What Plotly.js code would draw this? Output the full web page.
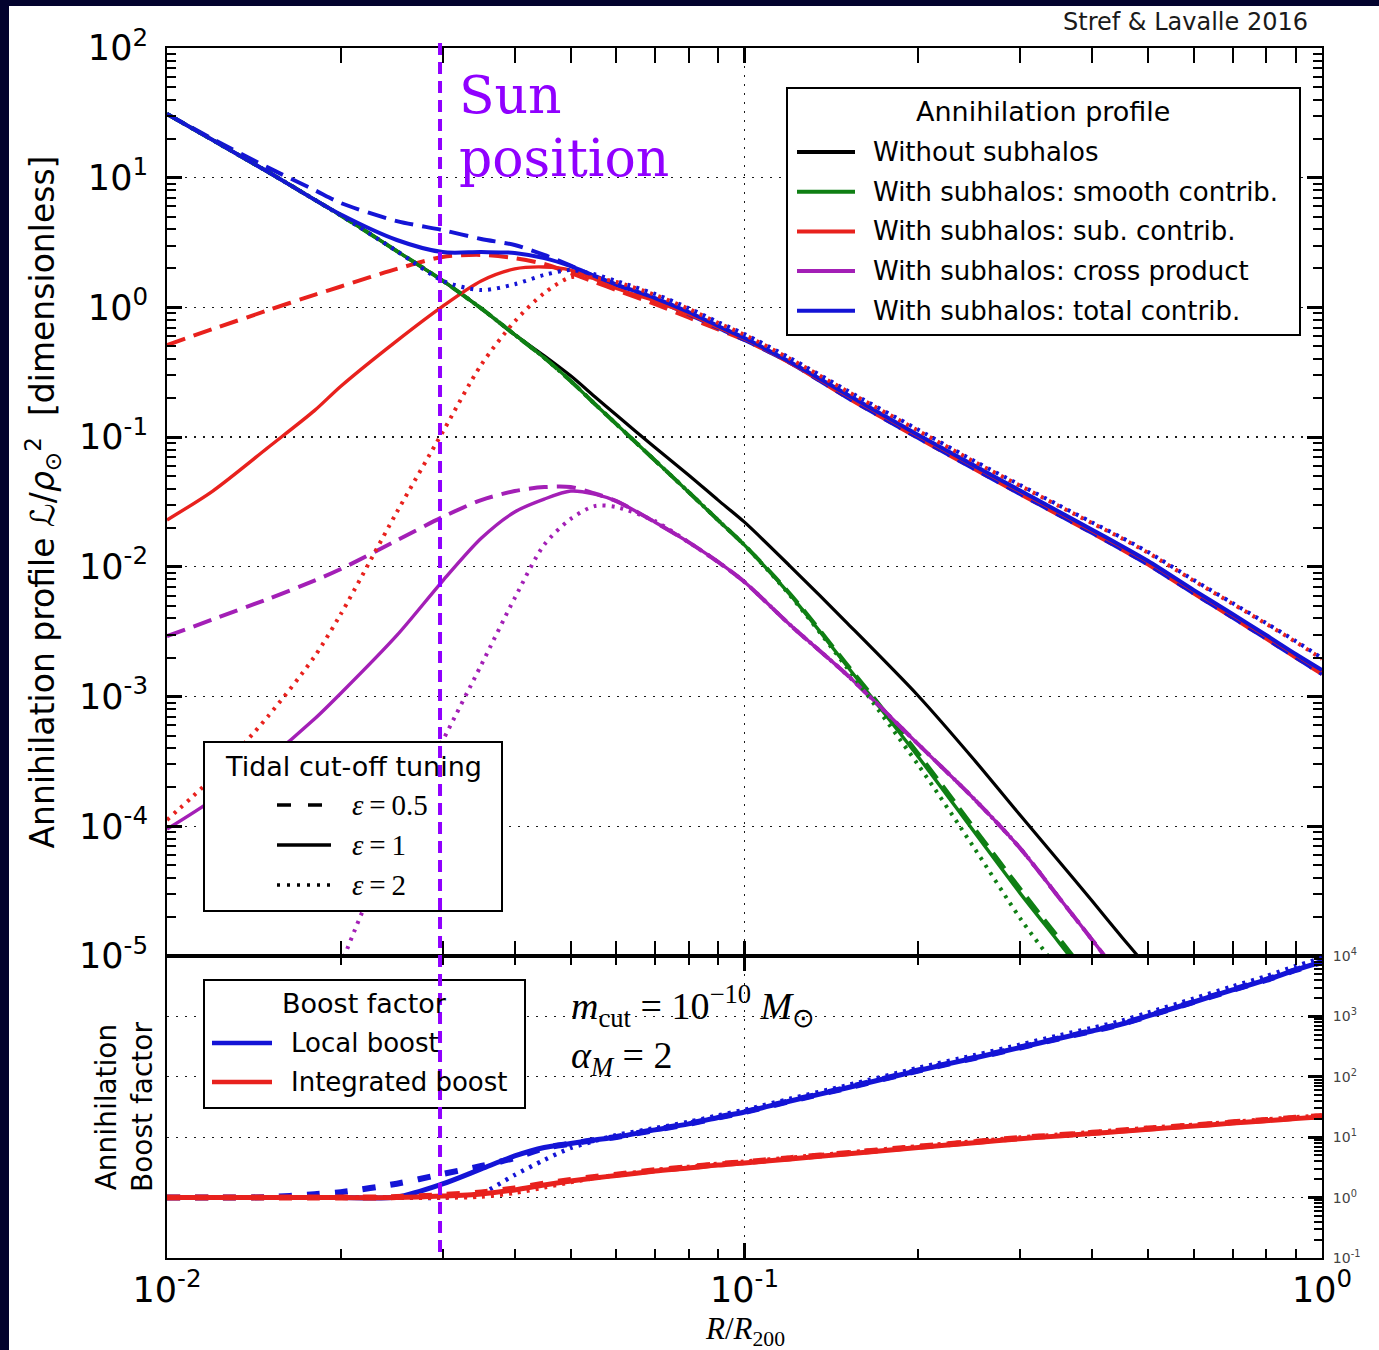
<!DOCTYPE html>
<html>
<head>
<meta charset="utf-8">
<script src="https://cdn.plot.ly/plotly-3.0.1.min.js"></script>
<style>
  html, body { margin: 0; padding: 0; width: 1379px; height: 1350px; overflow: hidden; background: #03032e; }
  #chart { position: absolute; left: 9px; top: 6px; width: 1370px; height: 1344px; background: #ffffff; }
</style>
</head>
<body>
<div id="chart"></div>
<script>
// Galactocentric radius in units of R200, shared by every curve
const radius = [0.01, 0.012, 0.015, 0.018, 0.02, 0.025, 0.03, 0.035, 0.04, 0.045, 0.05, 0.055, 0.06, 0.07, 0.08, 0.09, 0.1, 0.12, 0.15, 0.2, 0.25, 0.3, 0.35, 0.4, 0.45, 0.5, 0.6, 0.7, 0.8, 0.9, 1.0];

// Annihilation profile L / rho_sun^2 without subhalos
const noSubhalos = [31.0, 19.5, 11.0, 6.78, 5.12, 2.72, 1.61, 0.982, 0.617, 0.424, 0.297, 0.206, 0.148, 0.0832, 0.0511, 0.0327, 0.0221, 0.0101, 0.00375, 0.00101, 3.24e-4, 1.22e-4, 5.40e-5, 2.65e-5, 1.40e-5, 8.07e-6, 2.99e-6, null, null, null, null];

// Smooth contribution for epsilon = 0.5, 1, 2
const smoothEps05 = [31.0, 19.5, 11.0, 6.78, 5.12, 2.72, 1.61, 0.982, 0.617, 0.409, 0.271, 0.181, 0.126, 0.0661, 0.0378, 0.0229, 0.0147, 0.00617, 0.00180, 3.63e-4, 9.66e-5, 3.31e-5, 1.38e-5, 6.46e-6, 3.31e-6, null, null, null, null, null, null];
const smoothEps1 = [31.0, 19.5, 11.0, 6.78, 5.12, 2.72, 1.61, 0.982, 0.617, 0.409, 0.271, 0.181, 0.126, 0.0661, 0.0378, 0.0229, 0.0147, 0.00607, 0.00175, 3.42e-4, 9.02e-5, 3.05e-5, 1.28e-5, 5.97e-6, 3.04e-6, null, null, null, null, null, null];
const smoothEps2 = [31.0, 19.5, 11.0, 6.78, 5.12, 2.72, 1.61, 0.982, 0.617, 0.409, 0.271, 0.181, 0.126, 0.0661, 0.0378, 0.0229, 0.0147, 0.00600, 0.00170, 2.96e-4, 6.79e-5, 1.96e-5, 7.78e-6, 3.50e-6, null, null, null, null, null, null, null];

// Subhalo contribution
const subEps05 = [0.513, 0.681, 0.955, 1.25, 1.45, 1.98, 2.45, 2.54, 2.40, 2.16, 1.84, 1.57, 1.36, 1.06, 0.837, 0.676, 0.561, 0.373, 0.204, 0.0984, 0.0568, 0.0364, 0.0251, 0.0182, 0.0136, 0.0104, 0.00622, 0.00406, 0.00280, 0.00200, 0.00149];
const subEps1 = [0.0230, 0.0384, 0.0839, 0.160, 0.247, 0.553, 1.02, 1.60, 1.98, 2.05, 1.94, 1.66, 1.40, 1.12, 0.889, 0.700, 0.571, 0.373, 0.211, 0.102, 0.0593, 0.0380, 0.0262, 0.0189, 0.0142, 0.0109, 0.00650, 0.00425, 0.00292, 0.00209, 0.00157];
const subEps2 = [1.12e-4, 2.38e-4, 7.14e-4, 2.03e-3, 4.33e-3, 0.0264, 0.109, 0.361, 0.780, 1.29, 1.71, 1.69, 1.57, 1.25, 0.975, 0.760, 0.615, 0.401, 0.228, 0.112, 0.0646, 0.0422, 0.0295, 0.0217, 0.0166, 0.0128, 0.00780, 0.00519, 0.00364, 0.00264, 0.00195];

// Cross product smooth x subhalos
const crossEps05 = [2.92e-3, 3.93e-3, 5.68e-3, 7.83e-3, 9.62e-3, 0.0160, 0.0242, 0.0327, 0.0384, 0.0412, 0.0412, 0.0368, 0.0321, 0.0221, 0.0155, 0.0109, 0.00764, 0.00356, 0.00149, 4.28e-4, 1.62e-4, 6.79e-5, 2.84e-5, 1.33e-5, 6.75e-6, null, null, null, null, null, null];
const crossEps1 = [9.51e-5, 1.60e-4, 3.34e-4, 6.70e-4, 1.06e-3, 2.96e-3, 7.77e-3, 0.0166, 0.0265, 0.0333, 0.0384, 0.0364, 0.0321, 0.0221, 0.0155, 0.0109, 0.00764, 0.00356, 0.00149, 4.28e-4, 1.62e-4, 6.79e-5, 2.84e-5, 1.33e-5, 6.75e-6, null, null, null, null, null, null];
const crossEps2 = [null, null, null, 2.17e-6, 8.5e-6, 9.08e-5, 4.54e-4, 1.75e-3, 5.74e-3, 0.0148, 0.0234, 0.0294, 0.0289, 0.0225, 0.0155, 0.0109, 0.00764, 0.00356, 0.00149, 4.28e-4, 1.62e-4, 6.79e-5, 2.84e-5, 1.33e-5, 6.75e-6, null, null, null, null, null, null];

// Total annihilation profile with subhalos
const totalEps05 = [31.0, 19.9, 11.9, 8.04, 6.38, 4.63, 3.95, 3.37, 3.03, 2.54, 2.10, 1.74, 1.49, 1.14, 0.889, 0.694, 0.561, 0.373, 0.204, 0.0984, 0.0568, 0.0364, 0.0251, 0.0182, 0.0136, 0.0104, 0.00622, 0.00406, 0.00280, 0.00200, 0.00149];
const totalEps1 = [31.0, 19.5, 11.0, 6.78, 5.20, 3.31, 2.67, 2.67, 2.63, 2.40, 2.08, 1.75, 1.50, 1.18, 0.922, 0.719, 0.581, 0.379, 0.215, 0.104, 0.0603, 0.0388, 0.0267, 0.0193, 0.0145, 0.0111, 0.00662, 0.00433, 0.00298, 0.00213, 0.00160];
const totalEps2 = [31.0, 19.5, 11.0, 6.78, 5.12, 2.72, 1.61, 1.36, 1.51, 1.78, 1.94, 1.80, 1.60, 1.27, 0.989, 0.771, 0.624, 0.407, 0.231, 0.114, 0.0655, 0.0428, 0.0299, 0.0220, 0.0168, 0.0130, 0.00791, 0.00526, 0.00369, 0.00268, 0.00198];

// Boost factors (lower panel)
const localEps05 = [1.0, 1.0, 1.02, 1.14, 1.23, 1.70, 2.46, 3.34, 4.53, 6.60, 7.80, 8.99, 10.1, 13.2, 16.6, 21.2, 26.1, 39.7, 65.3, 127, 205, 305, 430, 573, 748, 1016, 1730, 2740, 4010, 5860, 7950];
const localEps1 = [1.0, 1.0, 1.0, 1.0, 1.0, 1.02, 1.68, 2.98, 4.89, 6.75, 7.87, 8.99, 10.1, 13.2, 16.6, 21.2, 26.1, 39.7, 65.3, 127, 205, 305, 430, 573, 748, 1016, 1730, 2740, 4010, 5860, 7950];
const localEps2 = [1.0, 1.0, 1.0, 1.0, 1.0, 1.0, 1.0, 1.19, 2.37, 4.20, 6.62, 8.65, 10.8, 14.1, 17.9, 22.9, 28.3, 43.3, 71.6, 140, 227, 340, 482, 644, 845, 1150, 1970, 3130, 4610, 6780, 9250];
const integratedEps05 = [1.0, 1.0, 1.0, 1.0, 1.0, 1.02, 1.10, 1.22, 1.42, 1.70, 1.96, 2.20, 2.40, 2.84, 3.19, 3.58, 3.86, 4.50, 5.43, 6.95, 8.35, 9.70, 10.8, 11.8, 12.9, 13.9, 15.7, 17.6, 19.2, 20.9, 22.4];
const integratedEps1 = [1.0, 1.0, 1.0, 1.0, 1.0, 1.0, 1.06, 1.15, 1.34, 1.62, 1.88, 2.11, 2.32, 2.75, 3.09, 3.47, 3.74, 4.36, 5.27, 6.75, 8.11, 9.42, 10.5, 11.5, 12.5, 13.5, 15.3, 17.1, 18.7, 20.3, 21.8];
const integratedEps2 = [1.0, 1.0, 1.0, 1.0, 1.0, 1.0, 1.0, 1.04, 1.20, 1.48, 1.80, 2.10, 2.36, 2.86, 3.22, 3.62, 3.92, 4.57, 5.52, 7.07, 8.50, 9.87, 11.0, 12.1, 13.1, 14.2, 16.0, 17.9, 19.6, 21.3, 22.8];

// Position of the Sun in units of R200
const sunPosition = 0.0297;

// Tick labels
const xTickVals = [0.01, 0.1, 1];
const xTickText = ['10<sup>-2</sup>', '10<sup>-1</sup>', '10<sup>0</sup>'];
const profileTickVals = [1e-5, 1e-4, 1e-3, 1e-2, 1e-1, 1, 10, 100];
const profileTickText = ['10<sup>-5</sup>', '10<sup>-4</sup>', '10<sup>-3</sup>', '10<sup>-2</sup>', '10<sup>-1</sup>', '10<sup>0</sup>', '10<sup>1</sup>', '10<sup>2</sup>'];
const boostTickVals = [0.1, 1, 10, 100, 1000, 10000];
const boostTickText = ['10<sup>-1</sup>', '10<sup>0</sup>', '10<sup>1</sup>', '10<sup>2</sup>', '10<sup>3</sup>', '10<sup>4</sup>'];

// Axis titles
const xTitle = '<i>R</i>/<i>R</i><sub>200</sub>';
const profileTitle = 'Annihilation profile <i>ℒ</i>/<i>ρ</i><sub>⊙</sub><sup>2</sup>  [dimensionless]';
const boostTitle = 'Annihilation<br>Boost factor';

// Model parameters
const modelText = '<i>m</i><sub>cut</sub> = 10<sup>−10</sup> <i>M</i><sub>⊙</sub><br><i>α</i><sub><i>M</i></sub> = 2';

// Legend contents
const profileLegendTitle = 'Annihilation profile';
const profileNames = ['Without subhalos', 'With subhalos: smooth contrib.', 'With subhalos: sub. contrib.', 'With subhalos: cross product', 'With subhalos: total contrib.'];
const profileColors = ['#000000', '#0f7f14', '#e8211d', '#a31fb6', '#1414d6'];
const tidalLegendTitle = 'Tidal cut-off tuning';
const tidalLabels = ['<i>ε</i>\u2009=\u20090.5', '<i>ε</i>\u2009=\u20091', '<i>ε</i>\u2009=\u20092'];
const boostLegendTitle = 'Boost factor';
const boostNames = ['Local boost', 'Integrated boost'];
const boostColors = ['#1414d6', '#e8211d'];

// ---- styling ----
const SANS = 'DejaVu Sans';
const MATH = 'Liberation Serif';
const SUN_COLOR = '#9000ff';
const GRID = {showgrid: true, gridcolor: '#1a1a1a', gridwidth: 1.3, griddash: '2px,7px'};

const topStyles = {
  dashed: {dash: '19px,9px', width: 4},
  solid: {dash: 'solid', width: 3.4},
  dotted: {dash: '3px,6px', width: 4}
};
const lowStyles = {
  dashed: {dash: '13px,15px', width: 6},
  solid: {dash: 'solid', width: 5},
  dotted: {dash: '3px,6px', width: 4.5}
};

// plot area in page pixels, used to place legend boxes and labels
const AREA = {left: 167, top: 48, right: 1322, bottom: 1258};
const px = X => (X - AREA.left) / (AREA.right - AREA.left);
const py = Y => (AREA.bottom - Y) / (AREA.bottom - AREA.top);

function minorTicks(lo, hi) {
  const v = [];
  for (let e = lo; e < hi; e++) for (let m = 2; m <= 9; m++) v.push(m * Math.pow(10, e));
  return v;
}

function line(y, color, style, yaxis, w) {
  return {
    type: 'scatter', mode: 'lines', x: radius, y: y,
    xaxis: 'x', yaxis: yaxis,
    line: {color: color, width: w || style.width, dash: style.dash, shape: 'spline', smoothing: 0.8},
    connectgaps: false, hoverinfo: 'skip', showlegend: false
  };
}

const [cBlack, cGreen, cRed, cPurple, cBlue] = profileColors;
const traces = [
  line(noSubhalos, cBlack, topStyles.solid, 'y', 3.2),
  line(smoothEps05, cGreen, topStyles.dashed, 'y'),
  line(subEps05, cRed, topStyles.dashed, 'y'),
  line(crossEps05, cPurple, topStyles.dashed, 'y'),
  line(totalEps05, cBlue, topStyles.dashed, 'y'),
  line(smoothEps1, cGreen, topStyles.solid, 'y'),
  line(subEps1, cRed, topStyles.solid, 'y'),
  line(crossEps1, cPurple, topStyles.solid, 'y'),
  line(totalEps1, cBlue, topStyles.solid, 'y', 4),
  line(smoothEps2, cGreen, topStyles.dotted, 'y'),
  line(subEps2, cRed, topStyles.dotted, 'y'),
  line(crossEps2, cPurple, topStyles.dotted, 'y'),
  line(totalEps2, cBlue, topStyles.dotted, 'y'),
  line(localEps05, boostColors[0], lowStyles.dashed, 'y2'),
  line(localEps1, boostColors[0], lowStyles.solid, 'y2'),
  line(localEps2, boostColors[0], lowStyles.dotted, 'y2'),
  line(integratedEps05, boostColors[1], lowStyles.dashed, 'y2'),
  line(integratedEps1, boostColors[1], lowStyles.solid, 'y2'),
  line(integratedEps2, boostColors[1], lowStyles.dotted, 'y2')
];

// ---- legends (boxes, samples, labels) ----
const shapes = [];
const annotations = [];

function box(x0, y0, x1, y1) {
  shapes.push({type: 'rect', xref: 'paper', yref: 'paper', x0: px(x0), x1: px(x1), y0: py(y1), y1: py(y0),
    fillcolor: '#ffffff', line: {color: '#000', width: 2}, layer: 'above'});
}
function sample(x0, x1, y, color, width, dash) {
  shapes.push({type: 'line', xref: 'paper', yref: 'paper', x0: px(x0), x1: px(x1), y0: py(y), y1: py(y),
    line: {color: color, width: width, dash: dash}, layer: 'above'});
}
function label(text, x, y, size, anchor, family, color, extra) {
  annotations.push(Object.assign({text: text, xref: 'paper', yref: 'paper', x: px(x), y: py(y), xanchor: anchor || 'left', yanchor: 'middle',
    showarrow: false, font: {family: family || SANS, size: size, color: color || '#000'}}, extra || {}));
}

// annihilation profile legend
box(787, 88, 1300, 335);
label(profileLegendTitle, 1043, 112, 27, 'center');
profileNames.forEach((name, i) => {
  const y = 152 + i * 39.7;
  sample(797, 855, y, profileColors[i], 4, 'solid');
  label(name, 871, y, 26);
});

// tidal cut-off legend
box(204, 742, 502, 911);
label(tidalLegendTitle, 353, 766, 27, 'center');
const tidalDash = ['14px,17px', 'solid', '3px,7px'];
tidalLabels.forEach((t, i) => {
  const y = 805 + i * 40;
  sample(277, 331, y, '#000', 3.5, tidalDash[i]);
  label(t, 350, y, 29, 'left', MATH);
});

// boost legend
box(204, 980, 525, 1108);
label(boostLegendTitle, 364, 1003, 27, 'center');
boostNames.forEach((name, i) => {
  const y = 1043 + i * 39;
  sample(212, 272, y, boostColors[i], 4.5, 'solid');
  label(name, 289, y, 26);
});

// Sun position marker, drawn over the legend boxes
shapes.push({type: 'line', xref: 'x', yref: 'paper', x0: sunPosition, x1: sunPosition, y0: py(1252), y1: py(43),
  line: {color: SUN_COLOR, width: 4, dash: '12px,7px'}, layer: 'above'});
label('Sun', 457, 95, 52, 'left', 'DejaVu Serif', SUN_COLOR);
label('position', 457, 158, 52, 'left', 'DejaVu Serif', SUN_COLOR);

// model parameters and credit
label(modelText, 569, 1030, 38, 'left', MATH, '#000', {align: 'left'});
label('Stref &amp; Lavalle 2016', 1310, 22, 24, 'right', SANS, '#1a1a1a');

// axis titles of the lower panel and of the shared radius axis
label(boostTitle, 124, 1107, 28, 'center', SANS, '#000', {textangle: -90});
label(xTitle, 745, 1331, 31, 'center', MATH);

const layout = {
  width: 1370, height: 1344,
  margin: {l: 158, r: 57, t: 42, b: 92},
  paper_bgcolor: '#ffffff', plot_bgcolor: '#ffffff',
  showlegend: false, hovermode: false,
  font: {family: SANS, color: '#000'},
  xaxis: Object.assign({
    type: 'log', range: [-2, 0], anchor: 'y2',
    showline: true, linecolor: '#000', linewidth: 2, mirror: 'allticks',
    ticks: 'inside', ticklen: 15, tickwidth: 2.5, tickcolor: '#000',
    tickmode: 'array', tickvals: xTickVals, ticktext: xTickText,
    tickfont: {family: SANS, size: 35, color: '#000'}, ticklabelstandoff: 0,
    zeroline: false,
    minor: {tickmode: 'array', tickvals: minorTicks(-2, 0), ticks: 'inside', ticklen: 9, tickwidth: 2, tickcolor: '#000', showgrid: false}
  }, GRID),
  yaxis: Object.assign({
    type: 'log', range: [-5, 2], domain: [0.2496, 1], anchor: 'x',
    showline: true, linecolor: '#000', linewidth: 2, mirror: 'ticks',
    ticks: 'inside', ticklen: 15, tickwidth: 3, tickcolor: '#000',
    tickmode: 'array', tickvals: profileTickVals, ticktext: profileTickText,
    tickfont: {family: SANS, size: 35, color: '#000'}, ticklabelstandoff: 10,
    zeroline: false,
    minor: {tickmode: 'array', tickvals: minorTicks(-5, 2), ticks: 'inside', ticklen: 9, tickwidth: 2, tickcolor: '#000', showgrid: false},
    title: {text: profileTitle, font: {family: SANS, size: 33, color: '#000'}, standoff: 14}
  }, GRID),
  yaxis2: Object.assign({
    type: 'log', range: [-1, 4], domain: [0, 0.2496], anchor: 'x', side: 'right',
    showline: true, linecolor: '#000', linewidth: 2, mirror: true,
    ticks: 'inside', ticklen: 14, tickwidth: 3, tickcolor: '#000',
    tickmode: 'array', tickvals: boostTickVals, ticktext: boostTickText,
    tickfont: {family: SANS, size: 14, color: '#444'}, ticklabelstandoff: 6,
    zeroline: false,
    minor: {tickmode: 'array', tickvals: minorTicks(-1, 4), ticks: 'inside', ticklen: 8, tickwidth: 2, tickcolor: '#000', showgrid: false}
  }, GRID),
  shapes: shapes,
  annotations: annotations
};

Plotly.newPlot('chart', traces, layout, {displayModeBar: false, staticPlot: true});
</script>
</body>
</html>
